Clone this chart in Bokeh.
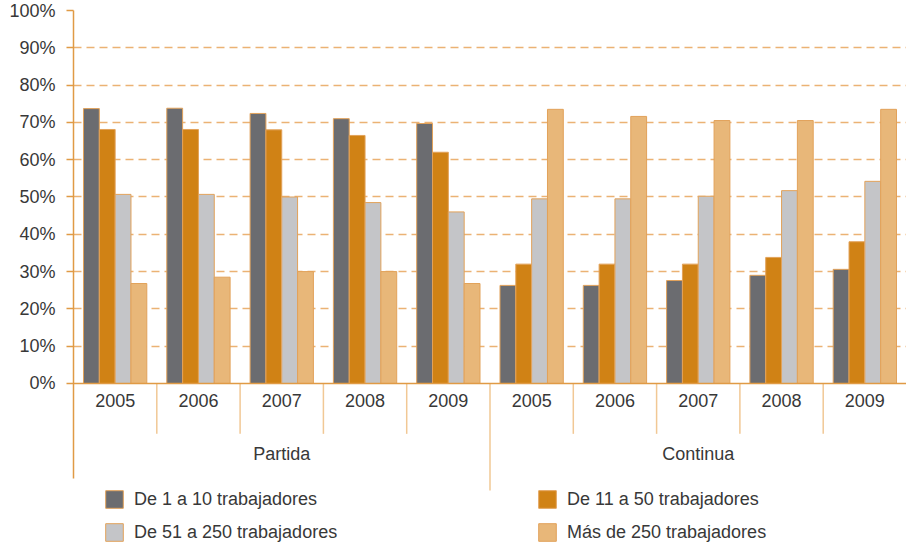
from bokeh.plotting import figure
from bokeh.models import (FactorRange, ColumnDataSource, FixedTicker, Span, Legend,
                          LegendItem, LinearAxis)
from bokeh.transform import dodge
from bokeh.core.properties import value
from bokeh.embed import file_html
from bokeh.resources import INLINE

groups = ["Partida", "Continua"]
years = ["2005", "2006", "2007", "2008", "2009"]
series_names = ["De 1 a 10 trabajadores", "De 11 a 50 trabajadores",
                "De 51 a 250 trabajadores", "Más de 250 trabajadores"]
s1_10 = [73.7, 73.8, 72.4, 71.0, 69.7, 26.3, 26.3, 27.6, 29.0, 30.6]
s11_50 = [68.1, 68.1, 68.0, 66.5, 62.0, 32.0, 32.0, 32.0, 33.8, 38.0]
s51_250 = [50.7, 50.7, 50.0, 48.5, 46.0, 49.5, 49.5, 50.2, 51.7, 54.2]
s250 = [26.8, 28.5, 30.0, 30.0, 26.8, 73.5, 71.6, 70.5, 70.5, 73.5]
y_ticks = [0, 10, 20, 30, 40, 50, 60, 70, 80, 90, 100]
y_labels = ["0%", "10%", "20%", "30%", "40%", "50%", "60%", "70%", "80%", "90%", "100%"]

colors = ["#6B6C70", "#D08215", "#C4C5C8", "#E8B779"]
outline = "#E2A25A"
axis_color = "#E09A45"
grid_color = "#EBB274"
sep_color = "#F1C895"
text_color = "#383838"
font = "Liberation Sans"

factors = [(g, y) for g in groups for y in years]

p = figure(x_range=FactorRange(*factors, factor_padding=0, group_padding=0,
                               subgroup_padding=0, range_padding=0),
           y_range=(-42.9, 100),
           width=906, height=543, output_backend="svg", toolbar_location=None,
           x_axis_location=None, y_axis_location=None,
           min_border_left=73, min_border_right=0, min_border_top=10,
           min_border_bottom=0)
p.outline_line_color = None
p.xgrid.visible = False

yaxis = LinearAxis(ticker=FixedTicker(ticks=y_ticks), bounds=(-25.5, 100),
                   major_label_overrides={t: l for t, l in zip(y_ticks, y_labels)})
yaxis.axis_line_color = axis_color
yaxis.axis_line_width = 1.5
yaxis.major_tick_line_color = axis_color
yaxis.major_tick_line_width = 1.5
yaxis.major_tick_out = 7
yaxis.major_tick_in = 0
yaxis.minor_tick_line_color = None
yaxis.major_label_text_font = font
yaxis.major_label_text_font_size = "18px"
yaxis.major_label_text_color = text_color
yaxis.major_label_standoff = 11
p.add_layout(yaxis, "left")

p.ygrid.ticker = FixedTicker(ticks=y_ticks[1:-1])
p.ygrid.grid_line_color = grid_color
p.ygrid.grid_line_width = 1.7
p.ygrid.grid_line_dash = "8 5"

src = ColumnDataSource(dict(x=factors, a=s1_10, b=s11_50, c=s51_250, d=s250))
offsets = [-0.285, -0.095, 0.095, 0.285]
items = []
for col, off, c, name in zip(["a", "b", "c", "d"], offsets, colors, series_names):
    r = p.vbar(x=dodge("x", off, range=p.x_range), top=col, bottom=0, width=0.19,
               source=src, fill_color=c, line_color=outline, line_width=1)
    items.append(LegendItem(label=name, renderers=[r]))

p.add_layout(Span(location=0, dimension="width", line_color=axis_color, line_width=1.5))

# year labels
p.text(x=factors, y=[-4.6] * len(factors), text=[f[1] for f in factors],
       text_align="center", text_baseline="middle", text_font=value(font),
       text_font_size="18px", text_color=text_color)
# group labels
p.text(x=groups, y=[-19.0, -19.0], text=groups, text_align="center",
       text_baseline="middle", text_font=value(font), text_font_size="18px",
       text_color=text_color)

# separators
short_sep = [f for f in factors if f[1] != "2005"]
sep_src = ColumnDataSource(dict(x=short_sep))
p.segment(x0=dodge("x", -0.5, range=p.x_range), y0=0,
          x1=dodge("x", -0.5, range=p.x_range), y1=-13.5,
          source=sep_src, line_color=sep_color, line_width=1.5)
long_src = ColumnDataSource(dict(x=[("Continua", "2005")]))
p.segment(x0=dodge("x", -0.5, range=p.x_range), y0=0,
          x1=dodge("x", -0.5, range=p.x_range), y1=-28.7,
          source=long_src, line_color=sep_color, line_width=1.5)

legend = Legend(items=[items[0], items[1], items[2], items[3]],
                orientation="horizontal", ncols=2, location=(30, 0),
                glyph_width=22, glyph_height=22, label_standoff=9,
                label_width=391, spacing=11, padding=1, margin=0,
                border_line_color=None, background_fill_alpha=0,
                label_text_font=font, label_text_font_size="18px",
                label_text_color=text_color, label_height=22)
p.add_layout(legend, "center")

open("out.html", "w").write(file_html(p, INLINE))
